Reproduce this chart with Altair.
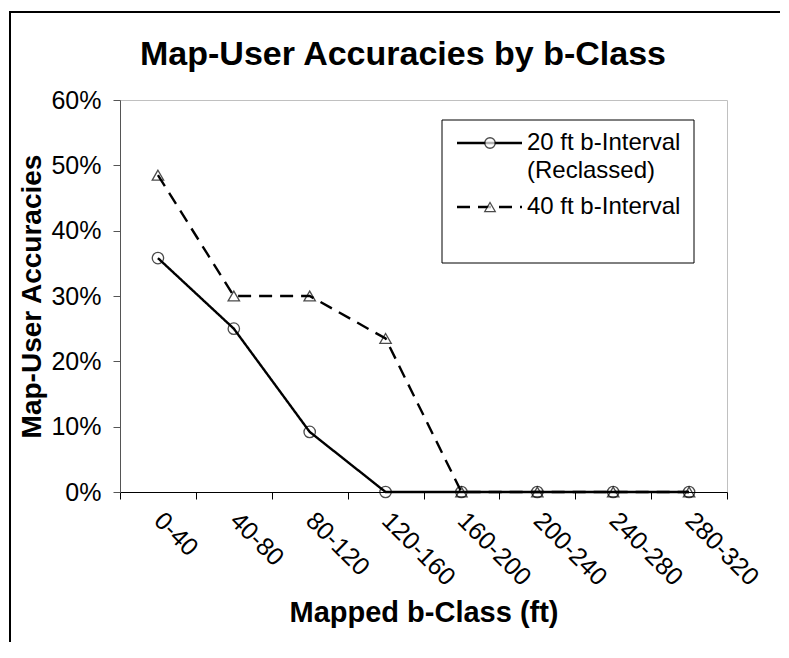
import altair as alt
import pandas as pd

categories = ["0-40", "40-80", "80-120", "120-160", "160-200", "200-240", "240-280", "280-320"]
series_names = ["20 ft b-Interval", "40 ft b-Interval"]
legend_labels = ["20 ft b-Interval\n(Reclassed)", "40 ft b-Interval"]
acc_20ft = [0.358, 0.250, 0.092, 0.0, 0.0, 0.0, 0.0, 0.0]
acc_40ft = [0.485, 0.300, 0.300, 0.235, 0.0, 0.0, 0.0, 0.0]
y_ticks = [0.0, 0.1, 0.2, 0.3, 0.4, 0.5, 0.6]

rows = []
for c, v in zip(categories, acc_20ft):
    rows.append({"cls": c, "acc": v, "series": series_names[0]})
for c, v in zip(categories, acc_40ft):
    rows.append({"cls": c, "acc": v, "series": series_names[1]})
df = pd.DataFrame(rows)

FONT = "Liberation Sans"
W, H = 607, 392

x_enc = alt.X("cls:N", sort=categories,
              scale=alt.Scale(type="band", paddingInner=0, paddingOuter=0),
              axis=alt.Axis(title="Mapped b-Class (ft)", labelAngle=45, labelAlign="left",
                            labelBaseline="middle", labelPadding=17, tickBand="extent",
                            tickSize=7, domainColor="#000000", tickColor="#000000",
                            labelFontSize=25, titleFontSize=29, titleFontWeight="bold",
                            titlePadding=8, labelFont=FONT, titleFont=FONT,
                            labelColor="#000000", titleColor="#000000", grid=False))
y_enc = alt.Y("acc:Q",
              scale=alt.Scale(domain=[0, 0.6], nice=False),
              axis=alt.Axis(title="Map-User Accuracies", format=".0%", values=y_ticks,
                            tickSize=7, domainColor="#555555", tickColor="#555555",
                            labelFontSize=25, titleFontSize=28, titleFontWeight="bold",
                            labelPadding=12, titlePadding=4, labelFont=FONT, titleFont=FONT,
                            labelColor="#000000", titleColor="#000000", grid=False))

dash = alt.StrokeDash("series:N", scale=alt.Scale(domain=series_names, range=[[1, 0], [13, 8]]), legend=None)
shape = alt.Shape("series:N", scale=alt.Scale(domain=series_names, range=["circle", "triangle-up"]), legend=None)

lines = alt.Chart(df).mark_line(color="black", strokeWidth=2.4).encode(
    x=x_enc, y=y_enc, strokeDash=dash, detail="series:N")
points = alt.Chart(df).mark_point(color="black", filled=False, size=130, strokeWidth=1.3).encode(
    x=x_enc, y=y_enc, shape=shape)

one = alt.Data(values=[{"a": 1}])

# outer frame: thin filled bars along the left and top
frame_left = alt.Chart(one).mark_rect(color="black").encode(
    x=alt.value(-111), x2=alt.value(-109), y=alt.value(-89), y2=alt.value(542))
frame_top = alt.Chart(one).mark_rect(color="black").encode(
    x=alt.value(-111), x2=alt.value(660), y=alt.value(-89), y2=alt.value(-87))

title = alt.Chart(alt.Data(values=[{"t": "Map-User Accuracies by b-Class"}])).mark_text(
    font=FONT, fontSize=34, fontWeight="bold", color="black", align="center", baseline="middle"
).encode(text="t:N", x=alt.value(283), y=alt.value(-45))

# legend
leg_box = alt.Chart(one).mark_rect(fill="white", stroke="black", strokeWidth=1).encode(
    x=alt.value(322), x2=alt.value(574), y=alt.value(20), y2=alt.value(163))
leg_df = pd.DataFrame({"series": series_names, "label": legend_labels, "yy": [43, 107]})
leg_lines = alt.Chart(leg_df).mark_rule(color="black", strokeWidth=2.4).encode(
    x=alt.value(337), x2=alt.value(402), y=alt.Y("yy:Q", scale=None), strokeDash=dash)
leg_pts = alt.Chart(leg_df).mark_point(color="black", filled=False, size=110, strokeWidth=1.3, fill="white").encode(
    x=alt.value(370), y=alt.Y("yy:Q", scale=None), shape=shape)
leg_text = alt.Chart(leg_df).mark_text(font=FONT, fontSize=24, color="black", align="left",
                                       baseline="top", lineBreak="\n", lineHeight=28, dy=-12).encode(
    x=alt.value(407), y=alt.Y("yy:Q", scale=None), text="label:N")

chart = alt.layer(frame_left, frame_top, title, lines, points, leg_box, leg_lines, leg_pts, leg_text).properties(
    width=W, height=H,
    autosize=alt.AutoSizeParams(type="none"),
    padding={"left": 112, "top": 92, "right": 54, "bottom": 150},
    background="white",
).configure_view(stroke="#c0c0c0", strokeWidth=1)

chart.save("out.html", embed_options={"renderer": "svg", "actions": False})
